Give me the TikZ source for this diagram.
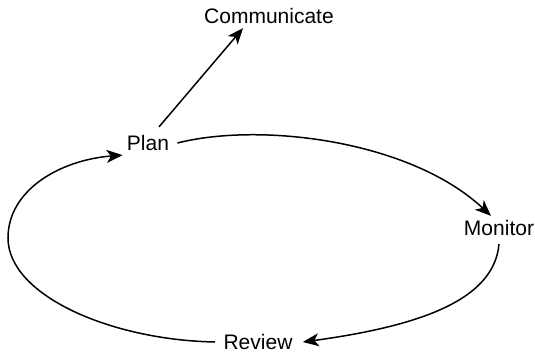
\documentclass[tikz,border=0pt]{standalone}
\usepackage{fontspec}
\setmainfont{Liberation Sans}
\usepackage{tikz}
\usetikzlibrary{arrows.meta,positioning}

\begin{document}
\begin{tikzpicture}[x=0.5pt, y=-0.5pt]
			\tikzstyle{Stage}	= [inner sep=2pt, font=\fontsize{10.5}{12}\selectfont]
			\tikzstyle{Flow}	= [-{Stealth[length=8pt, width=6.5pt, inset=2.2pt]}, line width=0.75pt]

			\useasboundingbox (0,0) rectangle (535,354);

			\node (comm) at (269,16) [Stage] {Communicate};
			\node (plan) at (148,143) [Stage] {Plan};
			\node (mon)  at (499,228) [Stage] {Monitor};
			\node (rev)  at (258,342) [Stage] {Review};

			\draw [Flow] ([xshift=5.5pt,yshift=2pt]plan.north) to (comm.205);
			\draw [Flow] ([xshift=2pt]plan.east) .. controls (260,122) and (410,140) .. ([xshift=-4pt]mon.north);
			\draw [Flow] ([yshift=-2pt]mon.south) .. controls (494,300) and (420,326) .. ([xshift=3pt]rev.east);
			\draw [Flow] ([xshift=-2pt]rev.west) .. controls (110,340) and (8,295) .. (8,238)
				.. controls (8,190) and (60,160) .. (plan.south west);
		\end{tikzpicture}
\end{document}
